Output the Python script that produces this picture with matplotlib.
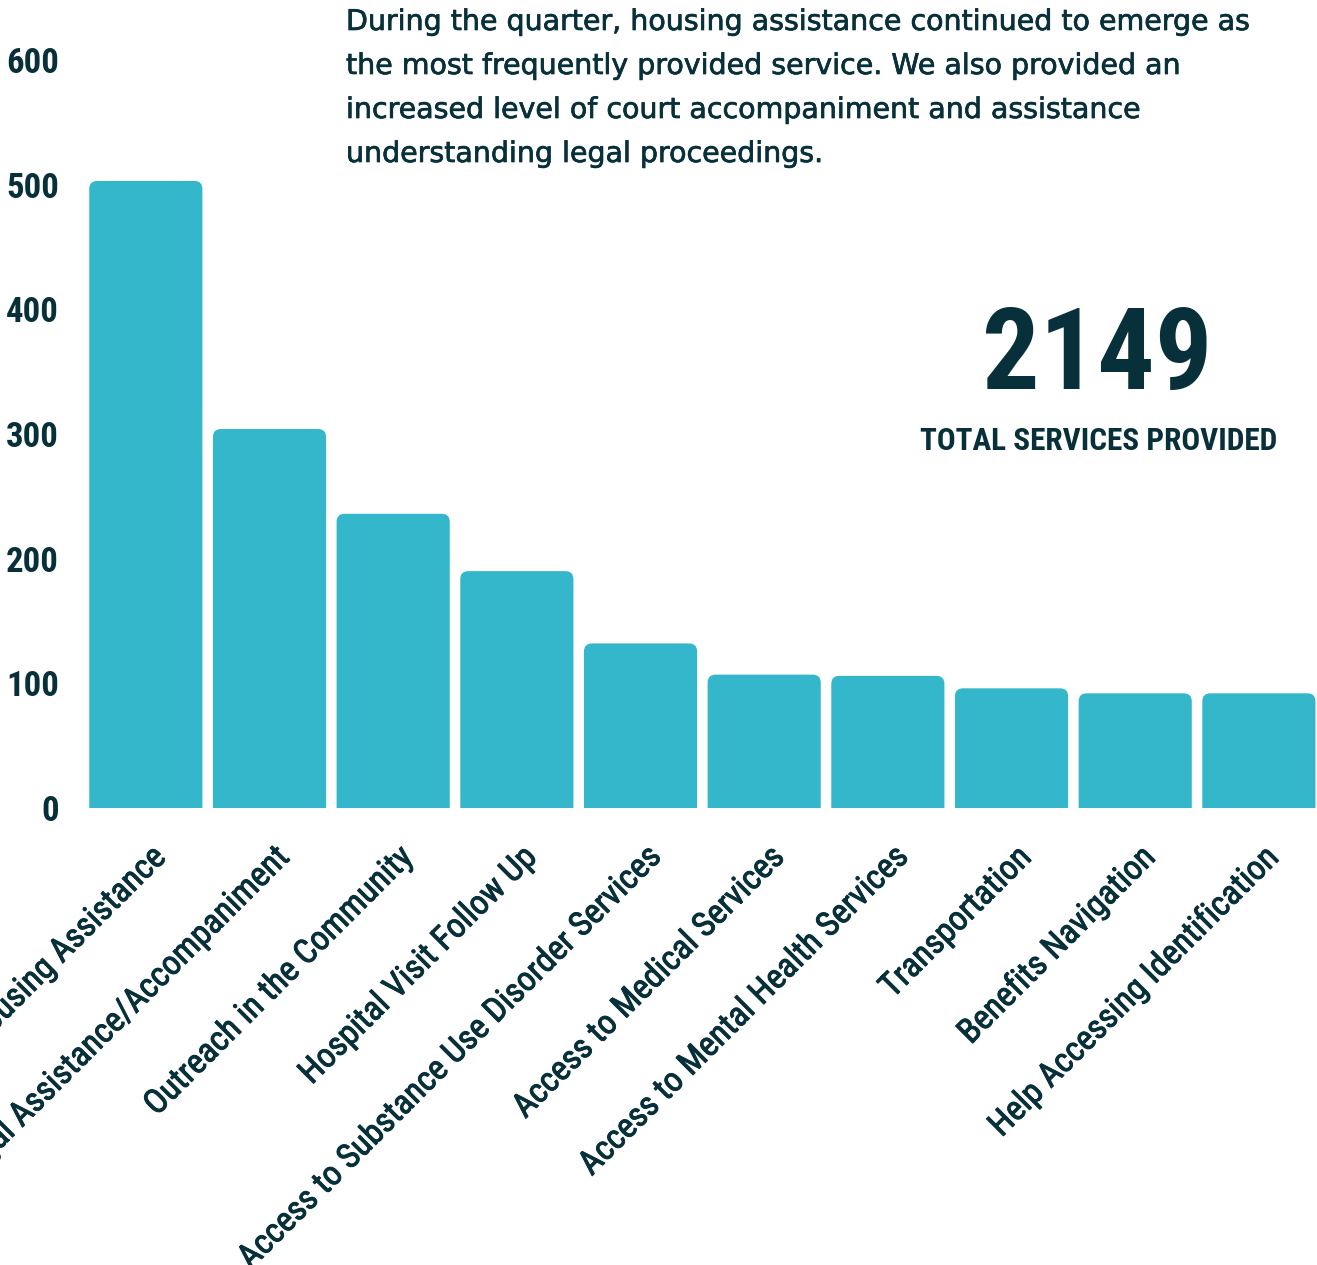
import matplotlib
matplotlib.use("Agg")
import matplotlib.pyplot as plt
import matplotlib.transforms as mtransforms
import matplotlib.patheffects as pe
from matplotlib import font_manager as fm
from matplotlib.patches import FancyBboxPatch

# data
services = ["Housing Assistance", "Legal Assistance/Accompaniment",
            "Outreach in the Community", "Hospital Visit Follow Up",
            "Access to Substance Use Disorder Services",
            "Access to Medical Services", "Access to Mental Health Services",
            "Transportation", "Benefits Navigation",
            "Help Accessing Identification"]
counts = [503, 304, 236, 190, 132, 107, 106, 96, 92, 92]
yticks = [0, 100, 200, 300, 400, 500, 600]
total = "2149"
total_label = "TOTAL SERVICES PROVIDED"
note_lines = ["During the quarter, housing assistance continued to emerge as",
              "the most frequently provided service. We also provided an",
              "increased level of court accompaniment and assistance",
              "understanding legal proceedings."]

bar_color = "#35B7CB"
ink = "#08303A"

# pick a narrow font if there is one
names = {f.name for f in fm.fontManager.ttflist}
narrow = "DejaVu Sans"
for n in ["Roboto Condensed", "Liberation Sans Narrow"]:
    if n in names:
        narrow = n
        break
narrow_font = dict(family=narrow, fontstretch="condensed", fontweight="bold")
# slightly heavier than regular
thicker = [pe.withStroke(linewidth=0.7, foreground=ink)]

W, H = 1317, 1265
fig = plt.figure(figsize=(W / 100, H / 100), dpi=100)
ax = fig.add_axes([84 / W, (H - 808) / H, (1317 - 84) / W, (808 - 60) / H])

bars = ax.bar(range(len(services)), counts, width=0.915, color=bar_color)
ax.set_xlim(-0.5, 9.47)
ax.set_ylim(0, 600)

# rounded tops: swap each rectangle for a rounded box
r = 0.065
aspect = (600 / 748) / (9.97 / 1233)
for b in bars:
    b.set_visible(False)
    x, w, h = b.get_x(), b.get_width(), b.get_height()
    p = FancyBboxPatch((x, -r * aspect * 2), w, h + r * aspect * 2,
                       boxstyle=f"round,pad=0,rounding_size={r}",
                       mutation_aspect=aspect, fc=bar_color, ec="none")
    ax.add_patch(p)

for s in ax.spines.values():
    s.set_visible(False)
ax.set_yticks(yticks)
ax.set_yticklabels([str(v) for v in yticks], color=ink, fontsize=25, **narrow_font)
ax.tick_params(axis="y", length=0, pad=18)
ax.tick_params(axis="x", length=0, pad=14)
ax.set_xticks(range(len(services)))
ax.set_xticklabels(services, rotation=45, ha="right", va="center",
                   rotation_mode="anchor", color=ink, fontsize=24.5,
                   family=narrow, fontstretch="condensed", fontweight="normal")
shift = mtransforms.ScaledTranslation(0.15, -0.25, fig.dpi_scale_trans)
for t in ax.get_xticklabels():
    t.set_transform(t.get_transform() + shift)
    t.set_path_effects(thicker)

# headline number
fig.text(1097 / W, 1 - 358 / H, total, ha="center", va="center",
         fontsize=82, color=ink, **narrow_font)
fig.text(1099 / W, 1 - 441 / H, total_label, ha="center", va="center",
         fontsize=22.5, color=ink, **narrow_font)

# note at the top
for i, line in enumerate(note_lines):
    fig.text(346 / W, 1 - (22 + 44 * i) / H, line, ha="left", va="center",
             fontsize=20.5, color=ink, family="DejaVu Sans",
             path_effects=[pe.withStroke(linewidth=0.5, foreground=ink)])

fig.savefig("out.png", dpi=100)
